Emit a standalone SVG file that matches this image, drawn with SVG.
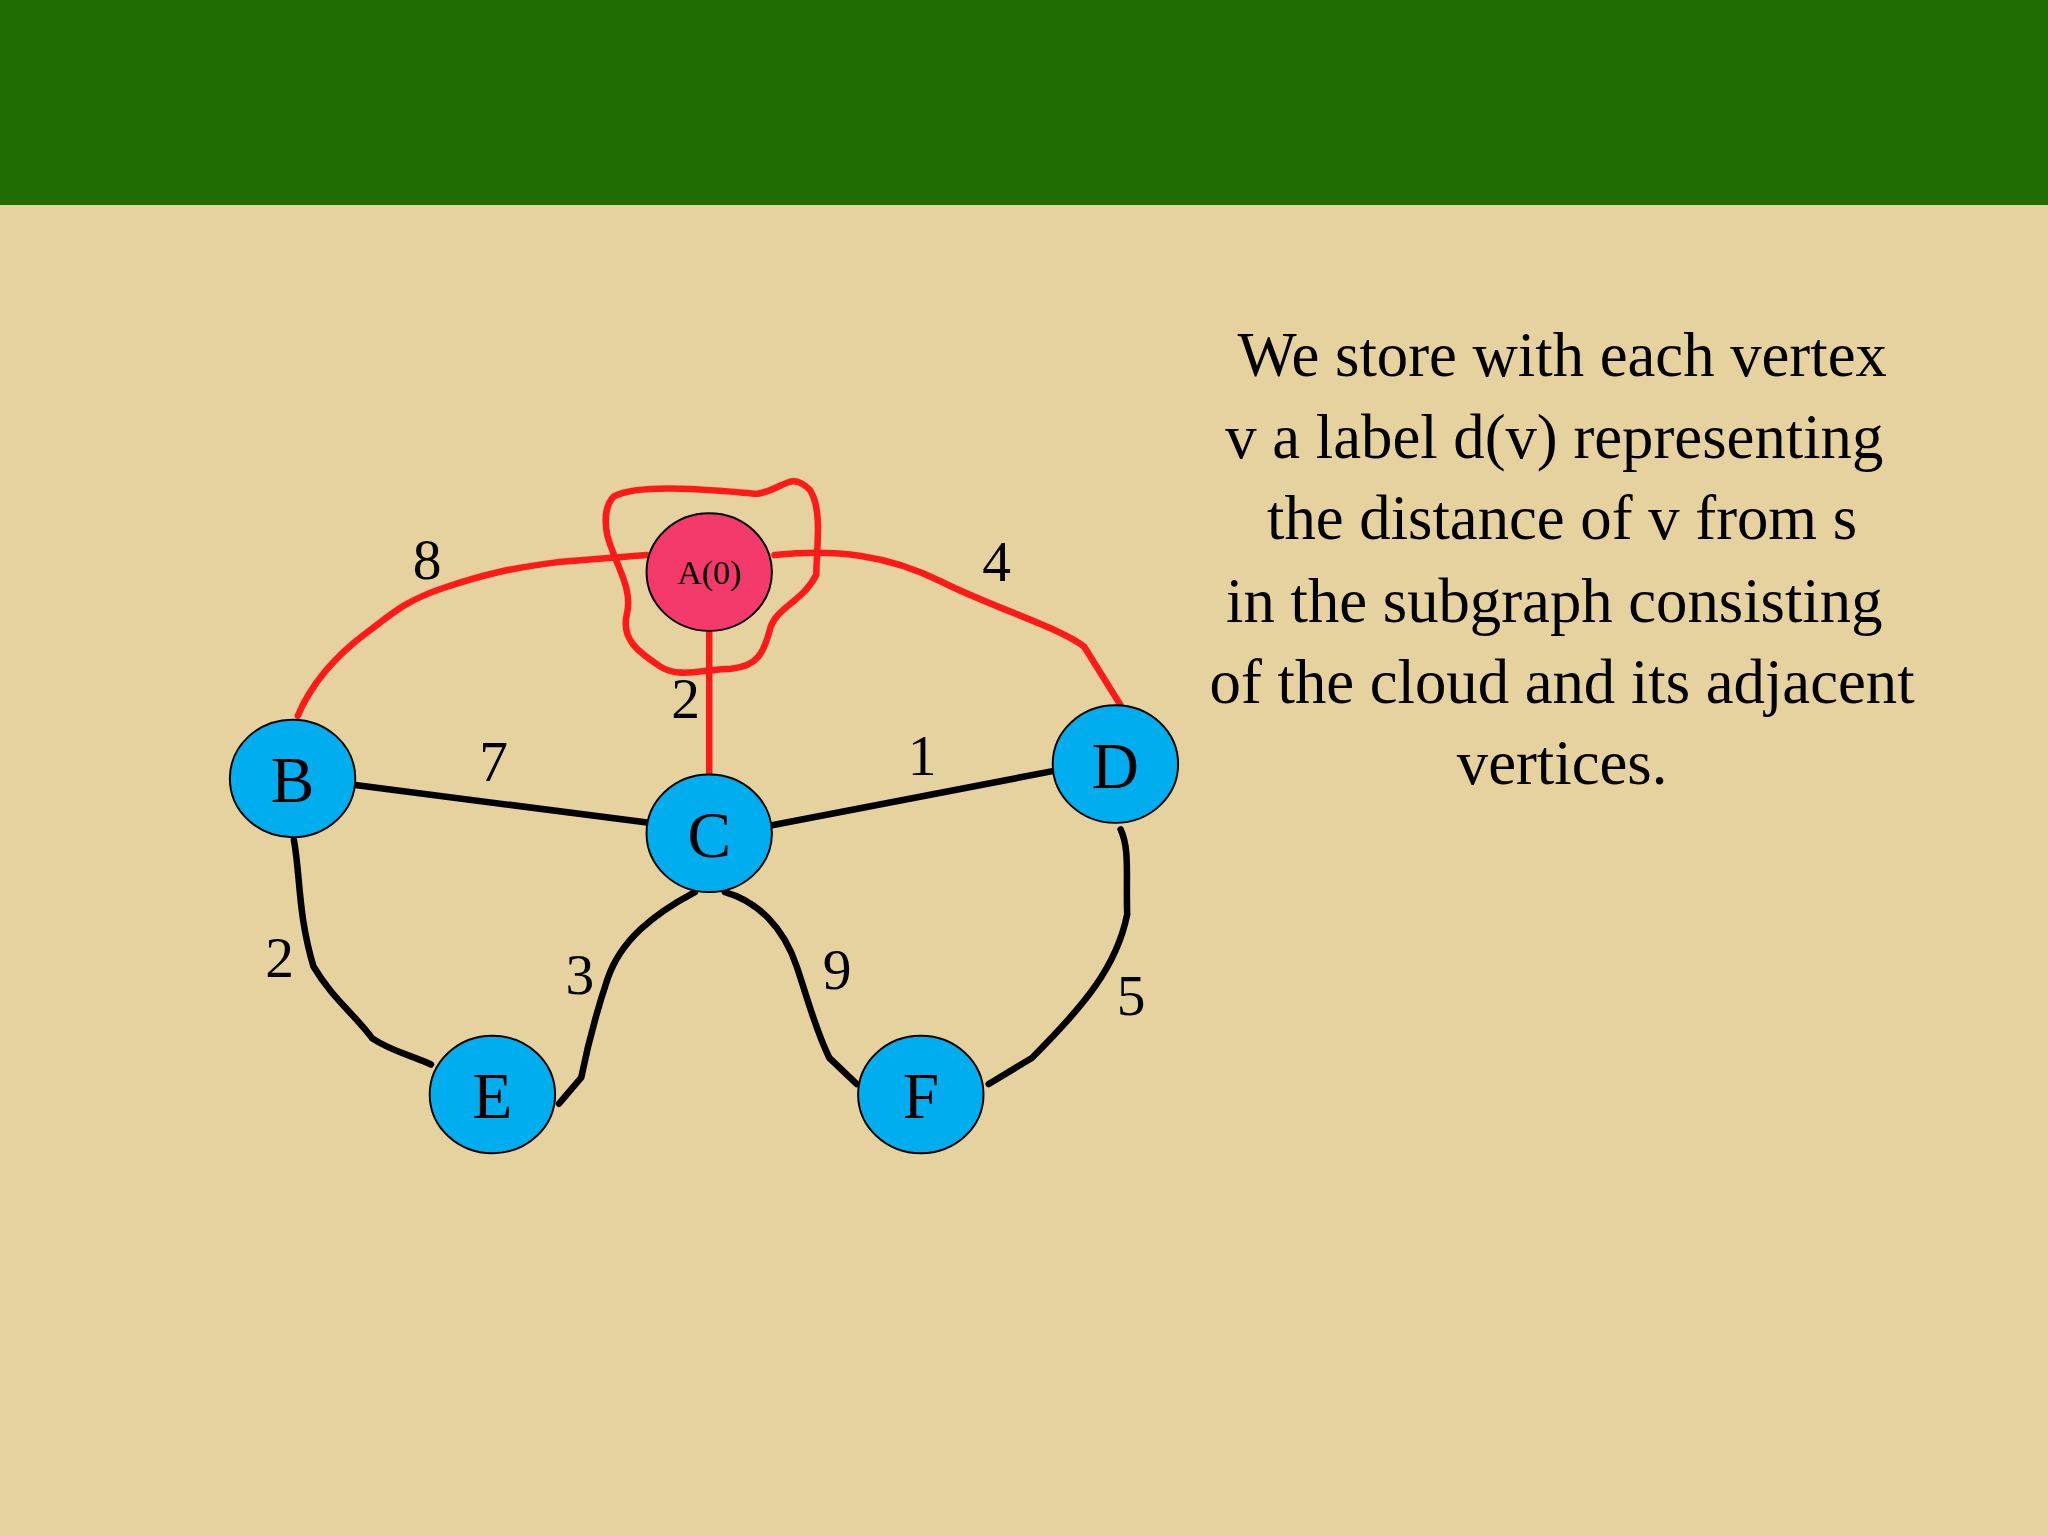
<svg xmlns="http://www.w3.org/2000/svg" width="2048" height="1536" viewBox="0 0 2048 1536">
<style>
.t{font-family:"Liberation Serif",serif;fill:#000}
.r{fill:none;stroke:#FF1A1A;stroke-width:5;stroke-linecap:round}
.k{fill:none;stroke:#000;stroke-width:5;stroke-linecap:round}
.n{fill:#00AEEF;stroke:#000;stroke-width:1.5}
</style>
<rect width="2048" height="1536" fill="#E6D29E"/>
<rect width="2048" height="205" fill="#206D04"/>
<g transform="scale(1.30612)">
<g id="connectors">
<path class="r" d="M228,548 C240,520 260,500 280,485 C300,470 310,460 340,450 C370,440 390,435 430,430 L495,425"/>
<path class="r" d="M593,425 C640,420 680,425 720,445 C760,465 810,480 830,495 L858,540"/>
<path class="r" d="M543,483 L543,592"/>
<path class="r" d="M470,380 C490,370 540,375 580,378 C600,375 605,360 620,375 C630,390 625,420 625,440 C615,460 595,465 590,480 C585,500 580,510 560,512 C540,512 520,520 505,510 C490,500 475,490 480,470 C485,450 470,430 465,410 C462,395 465,385 470,380 Z"/>
<path class="k" d="M272,601 L497,630"/>
<path class="k" d="M590,632 L808,590"/>
<path class="k" d="M225,643 C230,670 228,700 240,740 C255,765 270,775 285,795 C300,805 315,808 330,815"/>
<path class="k" d="M532,683 C500,700 475,720 465,750 C455,780 450,800 445,825 L428,845"/>
<path class="k" d="M555,683 C580,690 600,710 610,740 C620,770 625,790 635,810 L656,830"/>
<path class="k" d="M858,635 C865,650 862,670 863,700 C855,740 830,770 790,810 L757,830"/>
<g class="t" font-size="44" text-anchor="middle">
<text x="327" y="443">8</text><text x="763" y="445">4</text><text x="525" y="550">2</text>
<text x="378" y="598">7</text><text x="706" y="593">1</text><text x="214" y="748">2</text>
<text x="444" y="761">3</text><text x="641" y="757">9</text><text x="866" y="777">5</text>
</g>
</g>
<g id="A"><ellipse cx="543" cy="438" rx="48" ry="45" fill="#F43A6A" stroke="#000" stroke-width="1.5"/><text class="t" x="543" y="447" font-size="26" text-anchor="middle">A(0)</text></g>
<g id="B"><ellipse class="n" cx="224" cy="596" rx="48" ry="45"/><text class="t" x="224" y="614" font-size="50" text-anchor="middle">B</text></g>
<g id="C"><ellipse class="n" cx="543" cy="638" rx="48" ry="45"/><text class="t" x="543" y="656" font-size="50" text-anchor="middle">C</text></g>
<g id="D"><ellipse class="n" cx="854" cy="585" rx="48" ry="45"/><text class="t" x="854" y="603" font-size="50" text-anchor="middle">D</text></g>
<g id="E"><ellipse class="n" cx="377" cy="838" rx="48" ry="45"/><text class="t" x="377" y="856" font-size="50" text-anchor="middle">E</text></g>
<g id="F"><ellipse class="n" cx="705" cy="838" rx="48" ry="45"/><text class="t" x="705" y="856" font-size="50" text-anchor="middle">F</text></g>
<g class="t" font-size="48" text-anchor="middle">
<text x="1196" y="288">We store with each vertex</text>
<text x="1190" y="351">v a label d(v) representing</text>
<text x="1196" y="413">the distance of v from s</text>
<text x="1190" y="476">in the subgraph consisting</text>
<text x="1196" y="538">of the cloud and its adjacent</text>
<text x="1196" y="600">vertices.</text>
</g>
</g>
</svg>
